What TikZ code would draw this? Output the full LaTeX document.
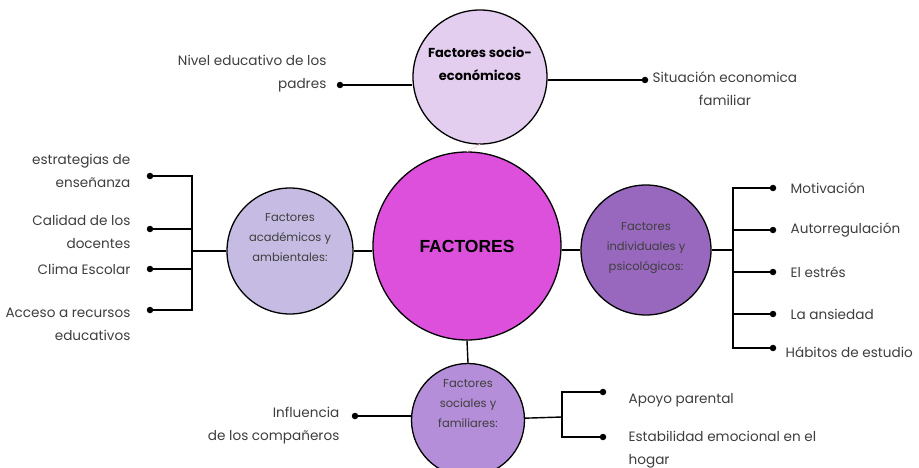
\documentclass[tikz,border=0pt]{standalone}
\usepackage{fontspec}
\setmainfont{Poppins}
\newfontfamily\arialfont{Liberation Sans}
\usetikzlibrary{positioning}
\definecolor{mainpink}{RGB}{221,80,220}
\definecolor{sociofill}{RGB}{228,206,240}
\definecolor{acadfill}{RGB}{198,188,227}
\definecolor{indivfill}{RGB}{152,104,190}
\definecolor{socialfill}{RGB}{180,142,216}
\definecolor{inkgray}{RGB}{62,62,62}

\begin{document}
\begin{tikzpicture}[x=1pt,y=-1pt,
  bubble/.style={circle,draw=black,line width=1.3pt,inner sep=0pt},
  intext/.style={align=center,text=inkgray,font=\fontsize{11.5}{20}\selectfont},
  dot/.style={circle,fill=black,inner sep=0pt,minimum size=6.5pt},
  wire/.style={line width=1.4pt},
  txt/.style={inner sep=0pt,text=inkgray,font=\fontsize{13.6}{23}\selectfont}]
  \useasboundingbox (0,0) rectangle (919,468);

  \node[bubble,fill=mainpink,minimum size=188pt] (fac) at (467,246)
    {\arialfont\bfseries\fontsize{17.5}{20}\selectfont FACTORES};
  \node[bubble,fill=sociofill,minimum size=134pt] (socio) at (480,77) {};
  \node[bubble,fill=acadfill,minimum size=126pt] (acad) at (290,251) {};
  \node[bubble,fill=indivfill,minimum size=130pt] (indiv) at (646,250) {};
  \node[bubble,fill=socialfill,minimum size=113pt] (social) at (468,420) {};

  \node[align=center,font=\bfseries\fontsize{13}{23}\selectfont] (sociot) at (480,64)
    {Factores socio-\\económicos};
  \node[intext] (acadt) at (290,238) {Factores\\académicos y\\ambientales:};
  \node[intext] (indivt) at (646,248) {Factores\\individuales y\\psicológicos:};
  \node[intext] (socialt) at (468,404) {Factores\\sociales y\\familiares:};

  % hub links
  \draw[wire] (acad.east) -- (acad.east -| fac.west);
  \draw[wire] (fac.east |- indiv.west) -- (indiv.west);
  \draw[wire] (fac.south) -- (social.north);
  \draw[pink!60,line width=1pt] (socio.south) -- (fac.north);

  % socio-economic
  \node[dot] (padres) at (340,85) {};
  \node[dot] (famil) at (645,80) {};
  \draw[wire] (padres) -- (padres -| socio.west);
  \draw[wire] (famil) -- (famil -| socio.east);
  \node[txt,left=10pt of padres,yshift=11pt,align=right] (padrest)
    {Nivel educativo de los\\padres};
  \node[txt,right=4pt of famil,yshift=-9pt,align=center] (familt)
    {Situación economica\\familiar};

  % academic
  \coordinate (lbar) at (192,251);
  \draw[wire] (acad) -- (lbar);
  \node[dot] (estr) at (150,176) {};
  \node[dot] (cali) at (150,229) {};
  \node[dot] (clim) at (150,269) {};
  \node[dot] (acce) at (150,310) {};
  \foreach \d in {estr,cali,clim,acce}
    \draw[wire] (\d) -| (lbar);
  \node[txt,left=16pt of estr,yshift=5pt,align=right] (estrt) {estrategias de\\enseñanza};
  \node[txt,left=16pt of cali,yshift=-3pt,align=right] (calit) {Calidad de los\\docentes};
  \node[txt,left=16pt of clim] (climt) {Clima Escolar};
  \node[txt,left=16pt of acce,yshift=-14pt,align=right] (accet) {Acceso a recursos\\educativos};

  % individual
  \coordinate (rbar) at (733,250);
  \draw[wire] (indiv) -- (rbar);
  \node[dot] (moti) at (773,188) {};
  \node[dot] (auto) at (773,230) {};
  \node[dot] (estres) at (773,272) {};
  \node[dot] (ansi) at (773,314) {};
  \node[dot] (habi) at (773,348) {};
  \foreach \d in {moti,auto,estres,ansi,habi}
    \draw[wire] (\d) -| (rbar);
  \node[txt,right=14pt of moti] (motit) {Motivación};
  \node[txt,right=14pt of auto] (autot) {Autorregulación};
  \node[txt,right=14pt of estres] (estrest) {El estrés};
  \node[txt,right=14pt of ansi] (ansit) {La ansiedad};
  \node[txt,right=9pt of habi,yshift=-4pt] (habit) {Hábitos de estudio};

  % social
  \node[dot] (influ) at (355,416) {};
  \draw[wire] (influ) -- (influ -| social.west);
  \node[txt,left=12pt of influ,yshift=-10pt,align=right] (influt) {Influencia\\de los compañeros};
  \coordinate (bbar) at (562,417);
  \draw[wire] (social) -- (bbar);
  \node[dot] (apoy) at (603,392) {};
  \node[dot] (esta) at (603,437) {};
  \draw[wire] (apoy) -| (bbar);
  \draw[wire] (esta) -| (bbar);
  \node[txt,right=22pt of apoy,yshift=-8pt] (apoyt) {Apoyo parental};
  \node[txt,right=22pt of esta,yshift=-13pt,align=left] (estat) {Estabilidad emocional en el\\hogar};
\end{tikzpicture}
\end{document}
